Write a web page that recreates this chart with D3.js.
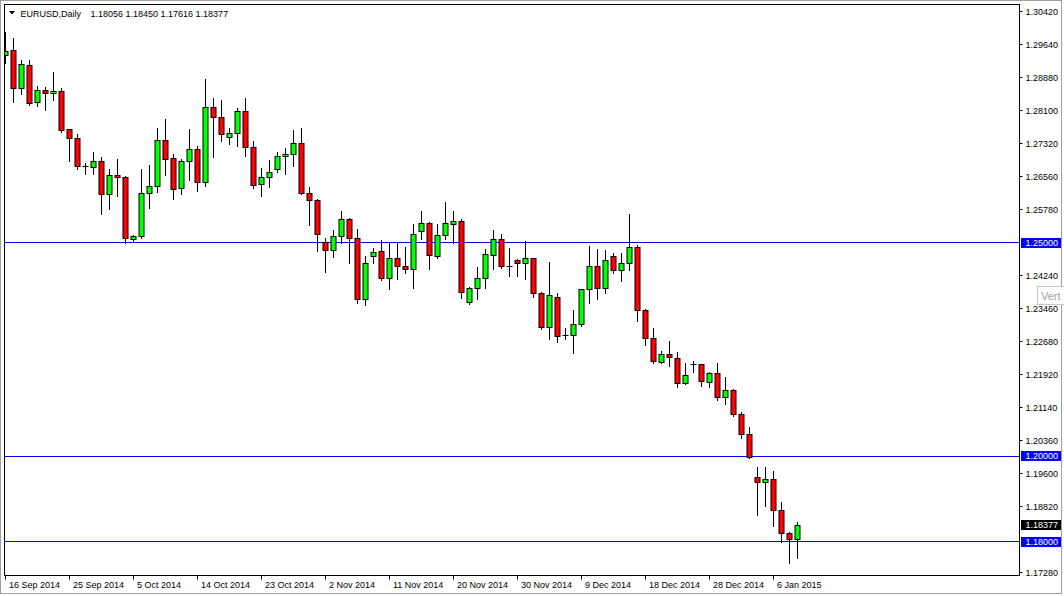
<!DOCTYPE html>
<html>
<head>
<meta charset="utf-8">
<script src="https://cdn.jsdelivr.net/npm/d3@7/dist/d3.min.js"></script>
<style>
html,body{margin:0;padding:0;background:#fff;overflow:hidden;}
svg{display:block;font-family:"Liberation Sans",Arial,sans-serif;}
</style>
</head>
<body>
<svg id="chart" width="1064" height="596"></svg>
<script>
const symbolTitle = "EURUSD,Daily";
const lastValues = "1.18056 1.18450 1.17616 1.18377";

const opens = [1.2940,1.2950,1.2862,1.2917,1.2830,1.2858,1.2851,1.2856,1.2765,1.2745,
1.2679,1.2676,1.2692,1.2614,1.2657,1.2654,1.2507,1.2515,1.2616,1.2633,
1.2741,1.2697,1.2628,1.2690,1.2720,1.2642,1.2818,1.2794,1.2748,1.2757,
1.2809,1.2724,1.2637,1.2654,1.2673,1.2702,1.2708,1.2734,1.2616,1.2600,
1.2501,1.2483,1.2516,1.2555,1.2511,1.2368,1.2469,1.2481,1.2416,1.2464,
1.2444,1.2438,1.2526,1.2546,1.2468,1.2518,1.2544,1.2551,1.2361,1.2394,
1.2417,1.2471,1.2509,1.2445,1.2459,1.2452,1.2464,1.2382,1.2302,1.2373,
1.2284,1.2283,1.2308,1.2391,1.2444,1.2393,1.2469,1.2435,1.2452,1.2490,
1.2342,1.2276,1.2220,1.2239,1.2230,1.2171,1.2215,1.2214,1.2173,1.2194,
1.2137,1.2155,1.2098,1.2050,1.1951,1.1939,1.1946,1.1873,1.1819,1.18056];

const highs = [1.2995,1.2981,1.2929,1.2929,1.2868,1.2866,1.2901,1.2862,1.2767,1.2755,
1.2688,1.2713,1.2701,1.2673,1.2697,1.2657,1.2519,1.2673,1.2683,1.2769,
1.2790,1.2708,1.2697,1.2767,1.2727,1.2884,1.2839,1.2835,1.2769,1.2816,
1.2839,1.2740,1.2676,1.2694,1.2713,1.2722,1.2765,1.2769,1.2630,1.2603,
1.2511,1.2530,1.2575,1.2559,1.2533,1.2469,1.2488,1.2507,1.2499,1.2499,
1.2491,1.2544,1.2575,1.2548,1.2544,1.2596,1.2576,1.2556,1.2396,1.2444,
1.2486,1.2530,1.2521,1.2487,1.2462,1.2505,1.2465,1.2384,1.2456,1.2382,
1.2300,1.2343,1.2392,1.2493,1.2485,1.2483,1.2476,1.2476,1.2568,1.2495,
1.2345,1.2301,1.2247,1.2270,1.2244,1.2218,1.2223,1.2215,1.2197,1.2218,
1.2185,1.2158,1.2103,1.2069,1.1974,1.1974,1.1966,1.1893,1.1823,1.18450];

const lows = [1.2921,1.2831,1.2849,1.2824,1.2822,1.2812,1.2835,1.2760,1.2693,1.2674,
1.2662,1.2661,1.2568,1.2580,1.2611,1.2500,1.2505,1.2511,1.2581,1.2620,
1.2659,1.2604,1.2615,1.2648,1.2622,1.2634,1.2702,1.2740,1.2732,1.2728,
1.2704,1.2629,1.2611,1.2632,1.2667,1.2662,1.2681,1.2614,1.2541,1.2482,
1.2431,1.2466,1.2500,1.2454,1.2360,1.2354,1.2452,1.2414,1.2391,1.2416,
1.2430,1.2395,1.2509,1.2440,1.2465,1.2509,1.2499,1.2372,1.2356,1.2369,
1.2395,1.2439,1.2442,1.2422,1.2422,1.2415,1.2374,1.2298,1.2274,1.2268,
1.2274,1.2243,1.2306,1.2360,1.2368,1.2382,1.2430,1.2411,1.2437,1.2318,
1.2261,1.2218,1.2218,1.2212,1.2162,1.2169,1.2198,1.2165,1.2163,1.2133,
1.2122,1.2094,1.2043,1.1996,1.1863,1.1884,1.1837,1.1798,1.1750,1.17616];

const closes = [1.2948,1.2862,1.2919,1.2827,1.2858,1.2851,1.2856,1.2763,1.2745,1.2679,
1.2679,1.2692,1.2614,1.2659,1.2654,1.2511,1.2515,1.2616,1.2633,1.2741,
1.2696,1.2626,1.2692,1.2719,1.2642,1.2818,1.2794,1.2755,1.2757,1.2809,
1.2724,1.2634,1.2654,1.2666,1.2703,1.2708,1.2734,1.2616,1.2600,1.2520,
1.2483,1.2516,1.2555,1.2511,1.2368,1.2452,1.2478,1.2416,1.2464,1.2444,
1.2438,1.2520,1.2546,1.2471,1.2518,1.2546,1.2551,1.2384,1.2394,1.2417,
1.2472,1.2509,1.2444,1.2445,1.2452,1.2464,1.2382,1.2302,1.2376,1.2281,
1.2284,1.2309,1.2391,1.2444,1.2393,1.2458,1.2435,1.2452,1.2490,1.2342,
1.2276,1.2222,1.2239,1.2232,1.2171,1.2190,1.2215,1.2175,1.2194,1.2137,
1.2155,1.2097,1.2051,1.1998,1.1939,1.1946,1.1873,1.1819,1.18056,1.18377];

const priceTicks = [1.30420,1.29640,1.28880,1.28100,1.27320,1.26560,1.25780,1.24240,1.23460,1.22680,1.21920,1.21140,1.20360,1.19600,1.18820,1.17280];
const levelLines = [1.25000,1.20000,1.18000];
const currentPrice = 1.18377;
const dateLabels = ["16 Sep 2014","25 Sep 2014","5 Oct 2014","14 Oct 2014","23 Oct 2014","2 Nov 2014","11 Nov 2014","20 Nov 2014","30 Nov 2014","9 Dec 2014","18 Dec 2014","28 Dec 2014","6 Jan 2015"];
const dateLabelBars = [0,8,16,24,32,40,48,56,64,72,80,88,96];

const svg = d3.select("#chart");
const L = 4.5, R = 1019.5, T = 4.5, B = 575.5;

const x = d3.scaleLinear().domain([0, 99]).range([5.5, 797.5]);
const y = d3.scaleLinear().domain([1.17280, 1.30420]).range([572.3, 11.7]);
const crisp = v => Math.floor(v) + 0.5;

// window border
svg.append("rect").attr("x",0.5).attr("y",0.5).attr("width",1061).attr("height",593)
  .attr("fill","#fff").attr("stroke","#a0a0a0");

svg.append("defs").append("clipPath").attr("id","plotclip")
  .append("rect").attr("x",L+0.5).attr("y",T+0.5).attr("width",R-L-1).attr("height",B-T-1);

const plot = svg.append("g").attr("clip-path","url(#plotclip)");

// level lines
plot.selectAll("line.level").data(levelLines).enter().append("line")
  .attr("class","level")
  .attr("x1",L).attr("x2",R)
  .attr("y1",d=>crisp(y(d))).attr("y2",d=>crisp(y(d)))
  .attr("stroke","#0000ff").attr("stroke-width",1);

const bars = d3.range(opens.length).map(i => ({i, o:opens[i], h:highs[i], l:lows[i], c:closes[i]}));

const g = plot.selectAll("g.bar").data(bars).enter().append("g").attr("class","bar");
g.append("line")
  .attr("x1",d=>x(d.i)).attr("x2",d=>x(d.i))
  .attr("y1",d=>Math.round(y(d.h))).attr("y2",d=>Math.round(y(d.l))+1)
  .attr("stroke","#000").attr("stroke-width",1);
g.each(function(d){
  const sel = d3.select(this);
  const top = crisp(y(Math.max(d.o,d.c)));
  const bot = crisp(y(Math.min(d.o,d.c)));
  if (d.o === d.c || bot - top < 1) {
    sel.append("line").attr("x1",x(d.i)-3).attr("x2",x(d.i)+3)
      .attr("y1",top).attr("y2",top).attr("stroke","#000");
  } else {
    sel.append("rect")
      .attr("x",x(d.i)-2.5).attr("width",5)
      .attr("y",top).attr("height",bot-top)
      .attr("fill", d.c > d.o ? "#00ff00" : "#ff0000")
      .attr("stroke","#000").attr("stroke-width",1);
  }
});

// frame
svg.append("rect").attr("x",L).attr("y",T).attr("width",R-L).attr("height",B-T)
  .attr("fill","none").attr("stroke","#000").attr("stroke-width",1);

// title
svg.append("path").attr("d","M9,11 L15,11 L12,14.5 Z").attr("fill","#000");
svg.append("text").attr("x",20.5).attr("y",16.5).attr("font-size","9px").attr("fill","#000").text(symbolTitle);
svg.append("text").attr("x",90.5).attr("y",16.5).attr("font-size","9px").attr("fill","#000").text(lastValues);

// price axis
const pa = svg.append("g");
pa.selectAll("line").data(priceTicks).enter().append("line")
  .attr("x1",R).attr("x2",R+3).attr("y1",d=>crisp(y(d))).attr("y2",d=>crisp(y(d)))
  .attr("stroke","#000");
pa.selectAll("text").data(priceTicks).enter().append("text")
  .attr("x",1025.5).attr("y",d=>y(d)+3.3).attr("font-size","9px").attr("fill","#000")
  .text(d=>d3.format(".5f")(d));

// highlighted labels
const marks = levelLines.map(v=>({v, bg:"#0000ff"})).concat([{v:currentPrice, bg:"#000"}]);
const mk = svg.selectAll("g.mark").data(marks).enter().append("g").attr("class","mark");
mk.append("rect").attr("x",1021).attr("width",40)
  .attr("y",d=>Math.round(y(d.v))-5).attr("height",10).attr("fill",d=>d.bg);
mk.append("text").attr("x",1025.5).attr("y",d=>Math.round(y(d.v))+3.3)
  .attr("font-size","9px").attr("fill","#fff").text(d=>d3.format(".5f")(d.v));

// date axis
const da = svg.append("g");
da.selectAll("line").data(dateLabelBars).enter().append("line")
  .attr("x1",d=>x(d)).attr("x2",d=>x(d)).attr("y1",B).attr("y2",B+4).attr("stroke","#000");
da.selectAll("text").data(dateLabelBars).enter().append("text")
  .attr("x",d=>x(d)+3.5).attr("y",588).attr("font-size","9px").attr("fill","#000")
  .text((d,i)=>dateLabels[i]);

// tooltip fragment
svg.append("rect").attr("x",1037.5).attr("y",286.5).attr("width",30).attr("height",18)
  .attr("fill","#fff").attr("stroke","#c8c8c8");
svg.append("text").attr("x",1041).attr("y",299.5).attr("font-size","11px").attr("fill","#a0a0a0").text("Vert");
</script>
</body>
</html>
